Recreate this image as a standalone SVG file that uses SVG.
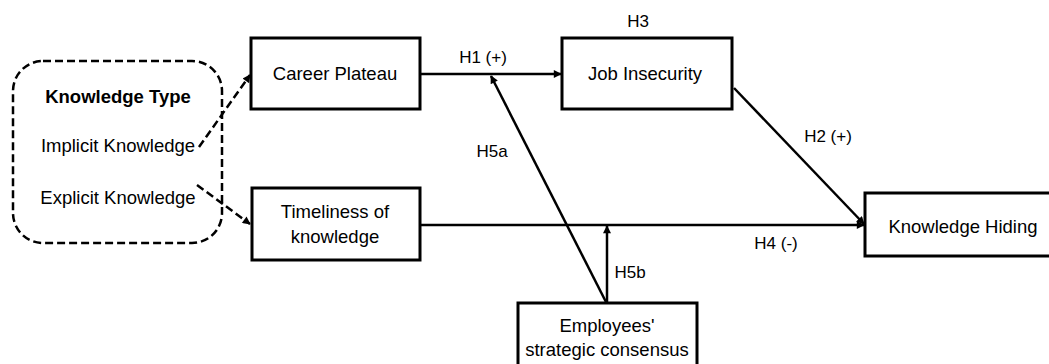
<svg xmlns="http://www.w3.org/2000/svg" width="1049" height="364" viewBox="0 0 1049 364">
<style>
text{font-family:"Liberation Sans",Arial,sans-serif;font-size:18.5px;fill:#000;text-anchor:middle}
.lbl{font-size:17px}
.box{fill:#fff;stroke:#000;stroke-width:3}
.c{fill:none;stroke:#000;stroke-width:2.5}
.d{fill:none;stroke:#000;stroke-width:2.5;stroke-dasharray:8 4}
</style>
<defs>
<marker id="ah" viewBox="0 0 10 10" refX="9" refY="5" markerWidth="4" markerHeight="3.2" orient="auto" markerUnits="strokeWidth">
<path d="M0,0 L10,5 L0,10 z" fill="#000"/>
</marker>
</defs>
<rect width="1049" height="364" fill="#fff"/>
<g id="knowledge-type">
<rect x="13" y="61" width="209" height="182" rx="30" ry="30" class="d"/>
<text x="118" y="103" font-weight="bold" font-size="17.5">Knowledge Type</text>
<text x="118" y="152">Implicit Knowledge</text>
<text x="118" y="204">Explicit Knowledge</text>
</g>
<g id="career-plateau">
<rect x="251" y="38" width="169" height="71" class="box"/>
<text x="335" y="80">Career Plateau</text>
</g>
<g id="job-insecurity">
<rect x="562" y="38" width="170" height="71" class="box"/>
<text x="645" y="80">Job Insecurity</text>
</g>
<g id="timeliness">
<rect x="252" y="188" width="168" height="72" class="box"/>
<text x="335" y="218">Timeliness of</text>
<text x="335" y="243">knowledge</text>
</g>
<g id="knowledge-hiding">
<rect x="865" y="193" width="190" height="63" class="box"/>
<text x="963" y="233">Knowledge Hiding</text>
</g>
<g id="consensus">
<rect x="518" y="303" width="179" height="64" class="box"/>
<text x="607" y="332">Employees'</text>
<text x="607" y="356">strategic consensus</text>
</g>
<g id="connectors">
<path d="M199,147 L250,75" class="d" marker-end="url(#ah)"/>
<path d="M197,185 L250,224" class="d" marker-end="url(#ah)"/>
<path d="M420,74 L561,74" class="c" marker-end="url(#ah)"/>
<path d="M734,88 L864,224" class="c" marker-end="url(#ah)"/>
<path d="M420,225 L864,225" class="c" marker-end="url(#ah)"/>
<path d="M606,302 L491,76" class="c" marker-end="url(#ah)"/>
<path d="M607,302 L607,226" class="c" marker-end="url(#ah)"/>
</g>
<g id="labels">
<text class="lbl" x="483" y="63">H1 (+)</text>
<text class="lbl" x="638" y="27">H3</text>
<text class="lbl" x="828" y="142">H2 (+)</text>
<text class="lbl" x="776" y="249">H4 (-)</text>
<text class="lbl" x="492" y="157">H5a</text>
<text class="lbl" x="630" y="278">H5b</text>
</g>
</svg>
